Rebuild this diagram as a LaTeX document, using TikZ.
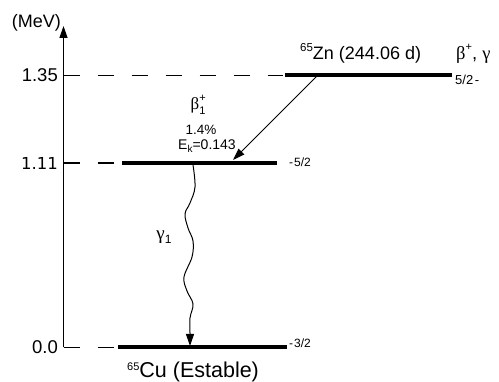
\documentclass[tikz,border=0pt]{standalone}
\usepackage{fontspec}
\setmainfont{Liberation Sans}
\newfontfamily\dvs{DejaVu Sans}
\newfontfamily\grk{Liberation Serif}
\usetikzlibrary{arrows.meta}
\begin{document}
\begin{tikzpicture}[x=1pt,y=-1pt,
  lvl/.style={line width=4pt},
  dsh/.style={line width=1.1pt, dash pattern=on 16pt off 18pt},
  arr/.style={-{Triangle[length=12pt,width=8pt]}, line width=1.1pt},
  lab/.style={font=\fontsize{18.5}{20}\selectfont, inner sep=0pt},
  spin/.style={font=\fontsize{12}{14}\selectfont, inner sep=0pt}]
\useasboundingbox (0,0) rectangle (499,382);

% axis
\coordinate (ab) at (63.5,347.5);
\coordinate (at) at (63.5,26);
\draw[arr, line width=1.3pt] (ab) -- (at);
\node[lab, font=\fontsize{18}{20}\selectfont, anchor=east] (mev) at (61,23) {(MeV)};

% level 1.35
\coordinate (d1s) at (63.5,75.5);
\coordinate (d1e) at (283,75.5);
\coordinate (zl) at (285,75.5);
\coordinate (zr) at (452,75.5);
\draw[dsh] (d1s) -- (d1e);
\draw[lvl] (zl) -- (zr);
\node[lab, anchor=east] (e1) at (58,75.5) {1.35};
\node[spin, font=\fontsize{13}{15}\selectfont, anchor=west] (s1) at (455,79.5) {5/2\kern1.5pt-};
\node[lab, font=\fontsize{18}{20}\selectfont, anchor=base west] (zn) at (300,60)
  {\raisebox{8pt}{\fontsize{11.5}{12}\selectfont 65}Zn (244.06 d)};
\node[lab, anchor=base west] (bg) at (456,60)
  {{\grk β}\raisebox{9pt}{\fontsize{11}{12}\selectfont +}, {\grk γ}};

% level 1.11
\coordinate (d2s) at (63.5,163);
\coordinate (d2e) at (118,163);
\coordinate (ml) at (122,163);
\coordinate (mr) at (277,163);
\draw[dsh] (d2s) -- (d2e);
\draw[lvl] (ml) -- (mr);
\node[lab, font=\dvs\fontsize{16.5}{18}\selectfont, anchor=east] (e2) at (58,163) {1.11};
\node[spin, anchor=west] (s2) at (289,162) {-\kern1pt5/2};

% level 0.0
\coordinate (d3s) at (63.5,347.5);
\coordinate (d3e) at (114,347.5);
\coordinate (cl) at (118,347.5);
\coordinate (cr) at (287,347.5);
\draw[dsh] (d3s) -- (d3e);
\draw[lvl] (cl) -- (cr);
\node[lab, anchor=east] (e3) at (58,347.5) {0.0};
\node[spin, anchor=west] (s3) at (289,343.5) {-\kern1pt3/2};
\node[lab, font=\fontsize{21.5}{23}\selectfont, anchor=base west] (cu) at (127,377.5)
  {\raisebox{7pt}{\fontsize{11}{12}\selectfont 65}Cu (Estable)};

% beta transition
\coordinate (bs) at (317,76);
\coordinate (be) at (233,160);
\draw[arr, line width=1pt] (bs) -- (be);
\node[inner sep=0pt, font=\grk\fontsize{17}{18}\selectfont] (bl) at (198,105)
  {β\rlap{\raisebox{7.5pt}{\fontsize{11}{12}\selectfont\rmfamily +}}\raisebox{-5pt}{\fontsize{11}{12}\selectfont\rmfamily 1}};
\node[inner sep=0pt, font=\fontsize{13.5}{15}\selectfont] (bp) at (201,130) {1.4\%};
\node[inner sep=0pt, font=\fontsize{14}{16}\selectfont] (bk) at (207,146) {E\raisebox{-3pt}{\fontsize{10}{11}\selectfont k}=0.143};

% gamma transition
\coordinate (gs) at (193,165);
\coordinate (ge) at (190,346);
\draw[arr, line width=1pt] plot[smooth, tension=0.6] coordinates
  {(gs) (195,187) (190,203) (185,214) (188,228) (193,241) (192,257) (184,277) (187,291) (193,304) (190,318) (190,333) (ge)};
\node[inner sep=0pt, font=\grk\fontsize{19}{20}\selectfont] (gl) at (164,237)
  {γ\raisebox{-4pt}{\fontsize{12}{13}\selectfont\rmfamily 1}};
\end{tikzpicture}
\end{document}
